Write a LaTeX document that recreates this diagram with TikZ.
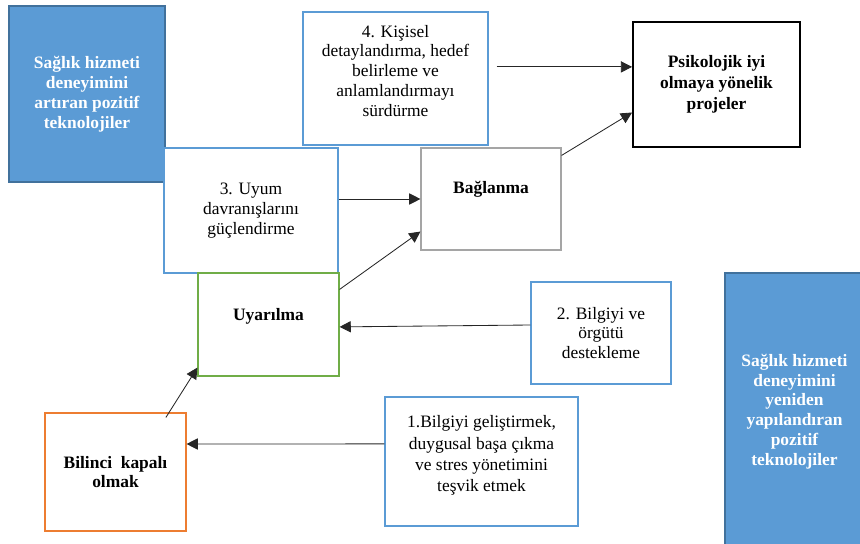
\documentclass[tikz,border=0pt]{standalone}
\usepackage{fontspec}
\setmainfont{Liberation Serif}
\usetikzlibrary{arrows.meta,positioning,calc}
\definecolor{techfill}{HTML}{5B9BD5}
\definecolor{techline}{HTML}{41719C}
\definecolor{adimline}{HTML}{5B9BD5}
\definecolor{uyarline}{HTML}{70AD47}
\definecolor{bilincline}{HTML}{ED7D31}
\definecolor{baglanline}{HTML}{A5A5A5}

\begin{document}
\begin{tikzpicture}[
  font=\fontsize{12.4}{14.1}\selectfont,
  box/.style={draw, line width=0.8pt, rectangle, fill=white, align=center, inner sep=2pt},
  tech/.style={box, draw=techline, fill=techfill, line width=1.3pt, text=white, font=\fontsize{12.4}{14.1}\selectfont\bfseries},
  adim/.style={box, draw=adimline},
  hedef/.style={box, draw=black, line width=1.3pt, font=\fontsize{12.4}{14.9}\selectfont\bfseries},
  baglan/.style={box, draw=baglanline, font=\fontsize{12.4}{14.1}\selectfont\bfseries},
  uyar/.style={box, draw=uyarline, font=\fontsize{12.4}{14.1}\selectfont\bfseries},
  bilinc/.style={box, draw=bilincline, font=\fontsize{12.4}{14.1}\selectfont\bfseries},
  arr/.style={-{Triangle[length=0.28cm,width=0.28cm]}, line width=0.6pt, black!85}
]
\useasboundingbox (0,0) rectangle (21.5,-13.6);
\clip (0,0) rectangle (21.5,-13.6);

\node[tech, minimum width=3.9cm, minimum height=4.4cm] (artiran) at (2.175,-2.35) {Sağlık hizmeti\\deneyimini\\artıran pozitif\\teknolojiler};
\node[tech, minimum width=3.475cm, minimum height=6.925cm] (yeniden) at (19.8625,-10.2875) {Sağlık hizmeti\\deneyimini\\yeniden\\yapılandıran\\pozitif\\teknolojiler};
\node[adim, minimum width=4.625cm, minimum height=3.325cm, text depth=11pt] (kisisel) at (9.8875,-1.9625) {4. Kişisel\\detaylandırma, hedef\\belirleme ve\\anlamlandırmayı\\sürdürme};
\node[hedef, minimum width=4.175cm, minimum height=3.125cm] (psiko) at (17.9125,-2.1125) {Psikolojik iyi\\olmaya yönelik\\projeler};
\node[adim, minimum width=4.35cm, minimum height=3.125cm] (uyum) at (6.275,-5.2625) {3. Uyum\\davranışlarını\\güçlendirme};
\node[baglan, minimum width=3.5cm, minimum height=2.55cm, text depth=17pt] (baglanma) at (12.275,-4.975) {Bağlanma};
\node[uyar, minimum width=3.525cm, minimum height=2.575cm, text depth=15pt] (uyarilma) at (6.7125,-8.1125) {Uyarılma};
\node[adim, minimum width=3.5cm, minimum height=2.55cm] (orgut) at (15.025,-8.325) {2. Bilgiyi ve\\örgütü\\destekleme};
\node[adim, minimum width=4.825cm, minimum height=3.225cm, text depth=11pt, font=\fontsize{12.4}{15.2}\selectfont] (gelistir) at (12.0375,-11.5375) {1.Bilgiyi geliştirmek,\\duygusal başa çıkma\\ve stres yönetimini\\teşvik etmek};
\node[bilinc, minimum width=3.525cm, minimum height=2.95cm] (bilinci) at (2.8875,-11.8) {Bilinci\ \ kapalı\\olmak};

\draw[arr] ([xshift=0.2cm,yshift=0.29cm]kisisel.east) -- ([yshift=0.44cm]psiko.west);
\draw[arr] ([yshift=-0.2cm]baglanma.north east) -- ([yshift=-0.7cm]psiko.west);
\draw[arr] (uyum.east |- baglanma.west) -- (baglanma.west);
\draw[arr] ([yshift=-0.425cm]uyarilma.north east) -- ([yshift=0.475cm]baglanma.south west);
\draw[arr] ([yshift=0.2cm]orgut.west) -- ([yshift=-0.06cm]uyarilma.east);
\draw[arr] ([yshift=0.44cm]gelistir.west) -- ([yshift=0.7cm]bilinci.east);
\draw[arr] ([xshift=1.26cm,yshift=-0.125cm]bilinci.north) -- ([yshift=0.225cm]uyarilma.south west);
\end{tikzpicture}
\end{document}
